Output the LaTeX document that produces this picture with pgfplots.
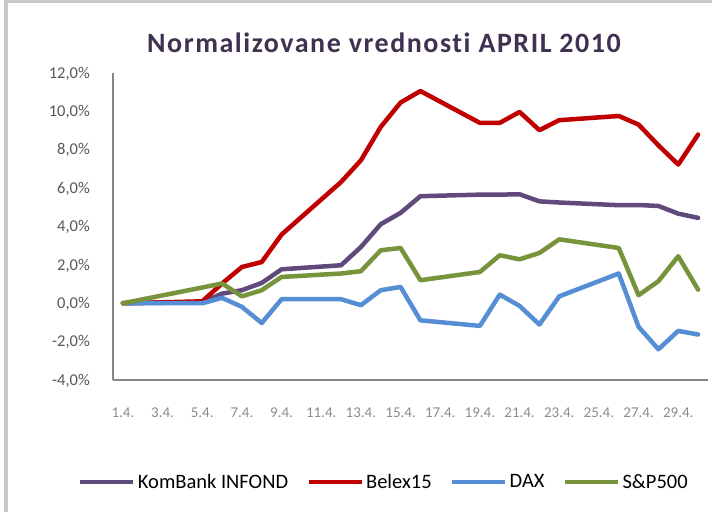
\documentclass[border=0pt]{standalone}
\usepackage{pgfplots}
\pgfplotsset{compat=1.18}
\usepackage{pgfplotstable}
\usepackage{fontspec}
\setmainfont{Carlito}
\definecolor{cKom}{HTML}{604A7B}
\definecolor{cBel}{HTML}{C00000}
\definecolor{cDax}{HTML}{558ED5}
\definecolor{cSp}{HTML}{77933C}
\definecolor{cTitle}{HTML}{403151}
\definecolor{cAxis}{HTML}{868686}
\definecolor{cYlab}{HTML}{595959}
\definecolor{cXlab}{HTML}{8C8C8C}
\definecolor{cBorder}{HTML}{C8C8C8}
\pgfplotstableread{
day kom bel dax sp
1  0.00  0.00  0.00  0.00
5  0.05  0.10  0.00  0.82
6  0.50  1.03  0.28  1.03
7  0.68  1.89 -0.19  0.36
8  1.06  2.15 -1.03  0.68
9  1.77  3.58  0.21  1.37
12 1.98  6.32  0.21  1.55
13 2.93  7.45 -0.10  1.67
14 4.12  9.19  0.68  2.76
15 4.71 10.46  0.85  2.88
16 5.58 11.06 -0.89  1.20
19 5.66  9.40 -1.18  1.63
20 5.66  9.40  0.45  2.50
21 5.68  9.97 -0.14  2.29
22 5.31  9.02 -1.11  2.62
23 5.25  9.54  0.36  3.33
26 5.11  9.76  1.55  2.88
27 5.12  9.31 -1.23  0.42
28 5.07  8.23 -2.40  1.15
29 4.67  7.23 -1.44  2.45
30 4.45  8.79 -1.63  0.71
}\datatable
\begin{document}
\begin{tikzpicture}
\path[use as bounding box, fill=white] (0,0) rectangle (715bp,512bp);
\fill[cBorder] (3.5bp,0bp) rectangle (8bp,512bp);
\fill[cBorder] (3.5bp,508.7bp) rectangle (712bp,512bp);
\node[font=\bfseries\fontsize{28bp}{32bp}\selectfont\addfontfeatures{LetterSpace=5.5,Ligatures={NoCommon,NoRare,NoContextual}}, text=cTitle, inner sep=0pt, anchor=base] at (384bp,459.7bp) {Normalizovane vrednosti APRIL 2010};
\begin{axis}[
  at={(113bp,132bp)}, anchor=south west,
  scale only axis, width=595bp, height=307bp,
  xmin=0.5, xmax=30.5, ymin=-4, ymax=12,
  axis x line*=bottom, axis y line*=left,
  axis line style={draw=cAxis, line width=1.3bp},
  major tick length=0pt,
  xtick={1,3,...,29},
  xticklabels={1.4.,3.4.,5.4.,7.4.,9.4.,11.4.,13.4.,15.4.,17.4.,19.4.,21.4.,23.4.,25.4.,27.4.,29.4.},
  ytick={-4,-2,...,12},
  yticklabels={{-4,0\%},{-2,0\%},{0,0\%},{2,0\%},{4,0\%},{6,0\%},{8,0\%},{10,0\%},{12,0\%}},
  xticklabel style={font=\fontsize{15bp}{18bp}\selectfont, text=cXlab, inner sep=0pt, anchor=base, yshift=-37bp},
  yticklabel style={font=\fontsize{16.5bp}{19bp}\selectfont, text=cYlab, inner sep=0pt, anchor=base east, xshift=-23bp, yshift=-5.2bp},
  /pgf/number format/assume math mode=true,
  every axis plot/.append style={line width=4.5bp, line join=round, line cap=round},
  legend columns=4,
  legend style={at={(0.456,-0.332)}, anchor=center, draw=none, fill=none,
    font=\fontsize{20.5bp}{24bp}\selectfont, text=black,
    /tikz/every even column/.append style={column sep=16bp},
    nodes={inner sep=2.5bp}},
  legend image code/.code={\draw[#1, line width=4bp, line cap=butt] (0bp,0bp) -- (53bp,0bp);},
]
\addplot[cKom] table[x=day,y=kom] {\datatable};
\addlegendentry{KomBank INFOND}
\addplot[cBel] table[x=day,y=bel] {\datatable};
\addlegendentry{Belex15}
\addplot[cDax] table[x=day,y=dax] {\datatable};
\addlegendentry{DAX}
\addplot[cSp] table[x=day,y=sp] {\datatable};
\addlegendentry{S\&P500}
\end{axis}
\end{tikzpicture}
\end{document}
